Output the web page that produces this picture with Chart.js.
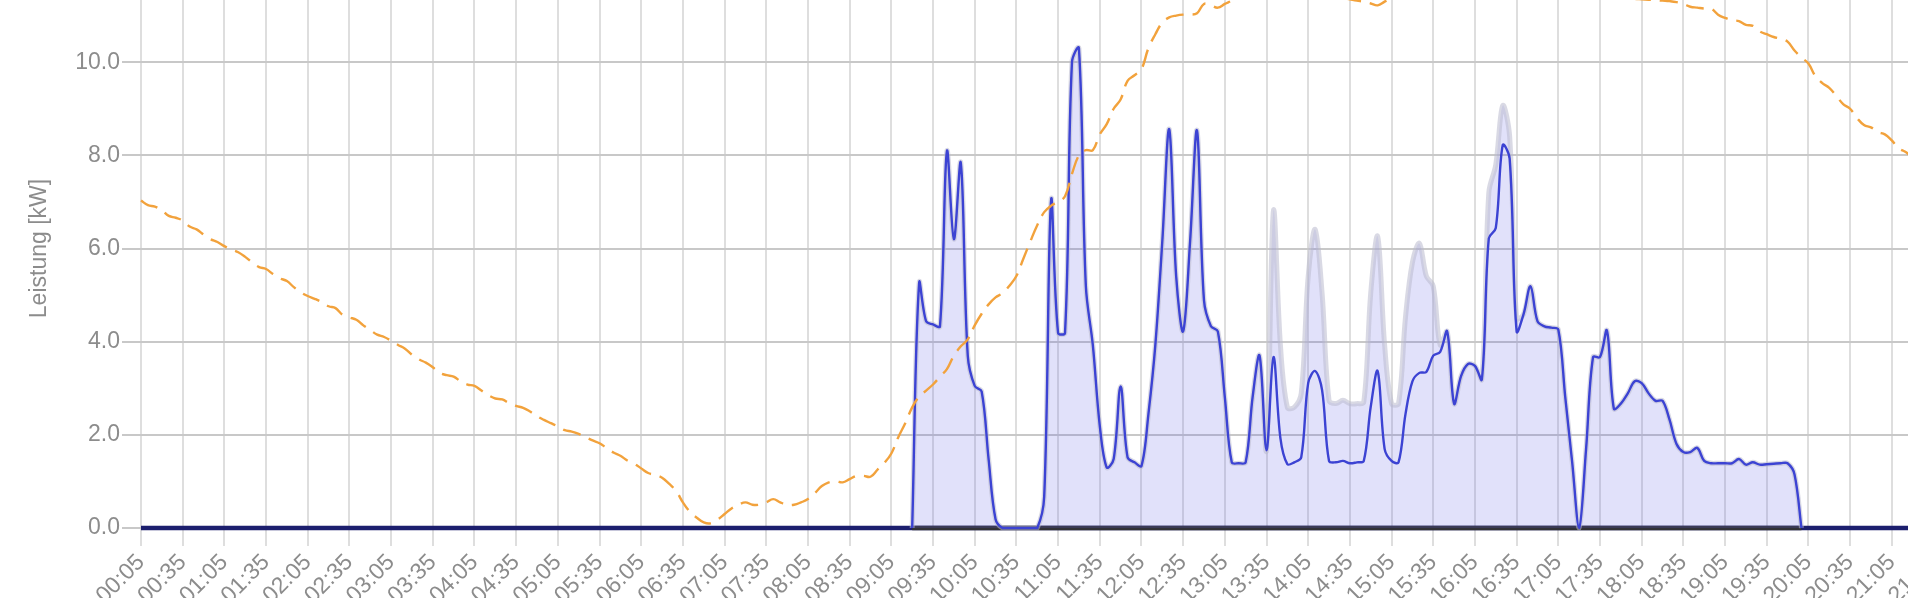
<!DOCTYPE html>
<html lang="de">
<head>
<meta charset="utf-8">
<title>Leistung</title>
<script src="https://cdn.jsdelivr.net/npm/chart.js@4.4.1/dist/chart.umd.min.js"></script>
<style>
  html, body { margin: 0; padding: 0; background: #fff; overflow: hidden; }
  #wrap { position: relative; width: 1908px; height: 598px; overflow: hidden; }
  #chart { position: absolute; left: 0; top: -51px; }
</style>
</head>
<body>
<div id="wrap"><canvas id="chart" width="2158" height="659"></canvas></div>
<script>
// x categories: every 5 minutes, 00:05 .. 23:55
const timeLabels = [];
for (let m = 5; m < 24 * 60; m += 5) {
    timeLabels.push(String(Math.floor(m / 60)).padStart(2, '0') + ':' + String(m % 60).padStart(2, '0'));
}

// PV series run from 09:20 to 20:00
const pvStart = '09:20';

// PV power actually fed (kW), one row per hour
const pvPower = [
    0, 5.26, 4.44, 4.37, 4.33, 8.09, 6.20, 7.84,                          // 09:20-09:55
    3.70, 3.05, 2.93, 1.48, 0.19, 0, 0, 0, 0, 0, 0, 0.67,                  // 10
    7.04, 4.19, 4.19, 10.00, 10.30, 5.19, 3.93, 2.20, 1.30, 1.48, 3.04, 1.52, // 11
    1.41, 1.33, 2.44, 3.93, 6.15, 8.56, 5.40, 4.22, 6.15, 8.53, 4.89, 4.33, // 12
    4.22, 2.81, 1.41, 1.39, 1.41, 2.81, 3.70, 1.67, 3.67, 1.93, 1.37, 1.41, // 13
    1.52, 3.11, 3.37, 2.96, 1.44, 1.41, 1.44, 1.39, 1.41, 1.44, 2.60, 3.37, // 14
    1.70, 1.44, 1.41, 2.44, 3.15, 3.33, 3.35, 3.70, 3.78, 4.22, 2.67, 3.26, // 15
    3.52, 3.48, 3.19, 6.22, 6.44, 8.22, 7.93, 4.22, 4.59, 5.19, 4.44, 4.33, // 16
    4.30, 4.26, 2.81, 1.41, 0, 1.70, 3.67, 3.67, 4.24, 2.56, 2.67, 2.89,   // 17
    3.15, 3.11, 2.89, 2.73, 2.73, 2.33, 1.81, 1.63, 1.63, 1.72, 1.44, 1.39, // 18
    1.39, 1.39, 1.39, 1.48, 1.36, 1.41, 1.36, 1.37, 1.38, 1.39, 1.39, 1.15, // 19
    0                                                                       // 20:00
];

// PV power possible without limitation (kW)
const pvPossible = [
    0, 5.26, 4.44, 4.37, 4.33, 8.09, 6.20, 7.84,
    3.70, 3.05, 2.93, 1.48, 0.19, 0, 0, 0, 0, 0, 0, 0.67,
    7.04, 4.19, 4.19, 10.00, 10.30, 5.19, 3.93, 2.20, 1.30, 1.48, 3.04, 1.52,
    1.41, 1.33, 2.44, 3.93, 6.15, 8.56, 5.40, 4.22, 6.15, 8.53, 4.89, 4.33,
    4.22, 2.81, 1.41, 1.39, 1.41, 2.81, 3.70, 1.67, 6.81, 3.93, 2.59, 2.59,
    2.89, 5.40, 6.41, 5.04, 2.74, 2.67, 2.74, 2.67, 2.67, 2.70, 5.04, 6.26,
    3.93, 2.67, 2.67, 4.52, 5.70, 6.11, 5.41, 5.19, 3.93, 4.22, 2.67, 3.26,
    3.52, 3.48, 3.19, 7.20, 7.80, 9.07, 8.40, 4.50, 4.59, 5.19, 4.44, 4.33,
    4.30, 4.26, 2.81, 1.41, 0, 1.70, 3.67, 3.67, 4.24, 2.56, 2.67, 2.89,
    3.15, 3.11, 2.89, 2.73, 2.73, 2.33, 1.81, 1.63, 1.63, 1.72, 1.44, 1.39,
    1.39, 1.39, 1.39, 1.48, 1.36, 1.41, 1.36, 1.37, 1.38, 1.39, 1.39, 1.15,
    0
];

// grid import while PV runs (kW)
const gridImport = [
    0, 0, 0, 0, 0, 0, 0, 0,
    0, 0, 0, 0, 0, 0, 0, 0, 0, 0, 0, 0,
    0, 0, 0, 0, 0, 0, 0, 0, 0, 0, 0, 0,
    0, 0, 0, 0, 0, 0, 0, 0, 0, 0, 0, 0,
    0, 0, 0, 0, 0, 0, 0, 0, 0, 0, 0, 0,
    0, 0, 0, 0, 0, 0, 0, 0, 0, 0, 0, 0,
    0, 0, 0, 0, 0, 0, 0, 0, 0, 0, 0, 0,
    0, 0, 0, 0, 0, 0, 0, 0, 0, 0, 0, 0,
    0, 0, 0, 0, 0, 0, 0, 0, 0, 0, 0, 0,
    0, 0, 0, 0, 0, 0, 0, 0, 0, 0, 0, 0,
    0, 0, 0, 0, 0, 0, 0, 0, 0, 0, 0, 0,
    0
];

// battery power over the whole day (kW), 00:05 .. 23:55
const batteryPower = [
    0,0,0,0,0,0,0,0,0,0,0,0,0,0,0,0,0,0,0,0,0,0,0,0,0,0,0,0,0,0,0,0,0,0,0,0,0,0,0,0,0,0,0,0,0,0,0,0,
    0,0,0,0,0,0,0,0,0,0,0,0,0,0,0,0,0,0,0,0,0,0,0,0,0,0,0,0,0,0,0,0,0,0,0,0,0,0,0,0,0,0,0,0,0,0,0,0,
    0,0,0,0,0,0,0,0,0,0,0,0,0,0,0,0,0,0,0,0,0,0,0,0,0,0,0,0,0,0,0,0,0,0,0,0,0,0,0,0,0,0,0,0,0,0,0,0,
    0,0,0,0,0,0,0,0,0,0,0,0,0,0,0,0,0,0,0,0,0,0,0,0,0,0,0,0,0,0,0,0,0,0,0,0,0,0,0,0,0,0,0,0,0,0,0,0,
    0,0,0,0,0,0,0,0,0,0,0,0,0,0,0,0,0,0,0,0,0,0,0,0,0,0,0,0,0,0,0,0,0,0,0,0,0,0,0,0,0,0,0,0,0,0,0,0,
    0,0,0,0,0,0,0,0,0,0,0,0,0,0,0,0,0,0,0,0,0,0,0,0,0,0,0,0,0,0,0,0,0,0,0,0,0,0,0,0,0,0,0,0,0,0,0
];

// outside temperature, 00:05 .. 23:55
const temperature = [
    7.03, 6.93, 6.90, 6.82, 6.70, 6.66, 6.60, 6.47, 6.41, 6.30,
    6.20, 6.14, 6.05, 5.98, 5.92, 5.82, 5.70, 5.60, 5.56, 5.45,
    5.36, 5.30, 5.17, 5.06, 4.98, 4.92, 4.85, 4.76, 4.72, 4.58,
    4.52, 4.47, 4.35, 4.25, 4.15, 4.10, 4.02, 3.93, 3.85, 3.72,
    3.62, 3.55, 3.45, 3.33, 3.28, 3.25, 3.15, 3.08, 3.05, 2.95,
    2.85, 2.78, 2.76, 2.68, 2.62, 2.58, 2.50, 2.40, 2.32, 2.25,
    2.18, 2.10, 2.07, 2.02, 1.95, 1.88, 1.82, 1.72, 1.62, 1.55,
    1.45, 1.38, 1.28, 1.18, 1.14, 1.08, 0.95, 0.80, 0.55, 0.35,
    0.22, 0.12, 0.10, 0.18, 0.30, 0.42, 0.50, 0.55, 0.50, 0.50,
    0.55, 0.62, 0.55, 0.50, 0.50, 0.55, 0.62, 0.75, 0.90, 0.98,
    1.00, 0.98, 1.05, 1.12, 1.12, 1.10, 1.25, 1.40, 1.60, 1.95,
    2.25, 2.59, 2.82, 2.95, 3.08, 3.25, 3.41, 3.70, 3.90, 4.05,
    4.35, 4.60, 4.80, 4.95, 5.04, 5.20, 5.41, 5.78, 6.15, 6.50,
    6.78, 6.92, 7.00, 7.12, 7.60, 8.00, 8.11, 8.11, 8.45, 8.67,
    9.00, 9.20, 9.60, 9.72, 9.85, 10.30, 10.60, 10.85, 10.96, 11.00,
    11.02, 11.02, 11.05, 11.25, 11.22, 11.17, 11.25, 11.32, 11.40, 11.45,
    11.50, 11.55, 11.55, 11.60, 11.62, 11.60, 11.58, 11.55, 11.50, 11.48,
    11.45, 11.42, 11.40, 11.38, 11.35, 11.32, 11.30, 11.26, 11.22, 11.30,
    11.38, 11.45, 11.50, 11.55, 11.60, 11.65, 11.70, 11.72, 11.75, 11.75,
    11.78, 11.78, 11.80, 11.80, 11.78, 11.75, 11.75, 11.72, 11.70, 11.68,
    11.65, 11.62, 11.60, 11.58, 11.55, 11.52, 11.50, 11.48, 11.45, 11.45,
    11.42, 11.42, 11.40, 11.40, 11.38, 11.36, 11.35, 11.34, 11.33, 11.32,
    11.31, 11.29, 11.25, 11.19, 11.17, 11.15, 11.15, 11.02, 10.95, 10.90,
    10.88, 10.80, 10.78, 10.66, 10.60, 10.54, 10.50, 10.44, 10.25, 10.10,
    9.97, 9.70, 9.55, 9.45, 9.28, 9.10, 9.00, 8.80, 8.65, 8.60,
    8.50, 8.45, 8.32, 8.15, 8.07, 7.95, 7.85, 7.80, 7.68, 7.55,
    7.48, 7.40, 7.30, 7.22, 7.15, 7.05, 6.98, 6.92, 6.85, 6.78,
    6.70, 6.65, 6.60, 6.52, 6.45, 6.40, 6.35, 6.28, 6.22, 6.18,
    6.12, 6.08, 6.02, 5.98, 5.92, 5.88, 5.82
];

const yTicks = { min: 0, max: 12, step: 2 };

// place a partial-day series on the full time axis
function onTimeAxis(values, startLabel) {
    const start = timeLabels.indexOf(startLabel);
    return timeLabels.map((t, i) => {
        const v = values[i - start];
        return v === undefined ? null : v;
    });
}

const textColor = '#8c8c8c';
const font = { family: "'Liberation Sans', Arial, Helvetica, sans-serif", size: 23 };

new Chart(document.getElementById('chart'), {
    type: 'line',
    data: {
        labels: timeLabels,
        datasets: [
            {
                label: 'Temperatur',
                data: temperature,
                borderColor: '#f2a23c',
                borderWidth: 2.4,
                borderDash: [18, 9],
                tension: 0.4,
                fill: false,
                pointRadius: 0,
                clip: false
            },
            {
                label: 'PV',
                data: onTimeAxis(pvPower, pvStart),
                borderColor: '#3c43d3',
                borderWidth: 2.4,
                tension: 0.35,
                fill: false,
                pointRadius: 0,
                clip: false
            },
            {
                label: 'PV möglich',
                data: onTimeAxis(pvPossible, pvStart),
                borderColor: 'rgba(185,185,205,0.55)',
                borderWidth: 5,
                backgroundColor: 'rgba(95,95,230,0.19)',
                tension: 0.35,
                fill: 'origin',
                pointRadius: 0,
                clip: false
            },
            {
                label: 'Netzbezug',
                data: onTimeAxis(gridImport, pvStart),
                borderColor: '#323236',
                borderWidth: 4.5,
                fill: false,
                pointRadius: 0,
                clip: false
            },
            {
                label: 'Batterie',
                data: batteryPower,
                borderColor: '#1c1f6e',
                borderWidth: 4.5,
                fill: false,
                pointRadius: 0,
                clip: false
            }
        ]
    },
    options: {
        responsive: false,
        animation: false,
        layout: { padding: { top: 20, right: 30, left: 0, bottom: 0 } },
        plugins: {
            legend: { display: false },
            tooltip: { enabled: false }
        },
        scales: {
            x: {
                afterFit: (scale) => { scale.height = 80; },
                border: { display: false },
                grid: {
                    color: (ctx) => ctx.index % 6 === 0 ? '#dedede' : 'rgba(0,0,0,0)',
                    lineWidth: 2,
                    tickLength: 18
                },
                ticks: {
                    autoSkip: false,
                    minRotation: 45,
                    maxRotation: 45,
                    color: textColor,
                    font: font,
                    padding: 3,
                    callback: function (value, index) {
                        return index % 6 === 0 ? this.getLabelForValue(value) : '';
                    }
                }
            },
            y: {
                min: yTicks.min,
                max: yTicks.max,
                afterFit: (scale) => { scale.width = 141; },
                border: { display: false },
                grid: { color: '#c8c8c8', lineWidth: 2, tickLength: 19 },
                ticks: {
                    stepSize: yTicks.step,
                    color: textColor,
                    font: font,
                    padding: 2,
                    callback: (v) => v.toFixed(1)
                },
                title: {
                    display: true,
                    text: 'Leistung [kW]',
                    color: textColor,
                    font: font,
                    padding: { top: 26, bottom: 0 }
                }
            }
        }
    }
});
</script>
</body>
</html>
